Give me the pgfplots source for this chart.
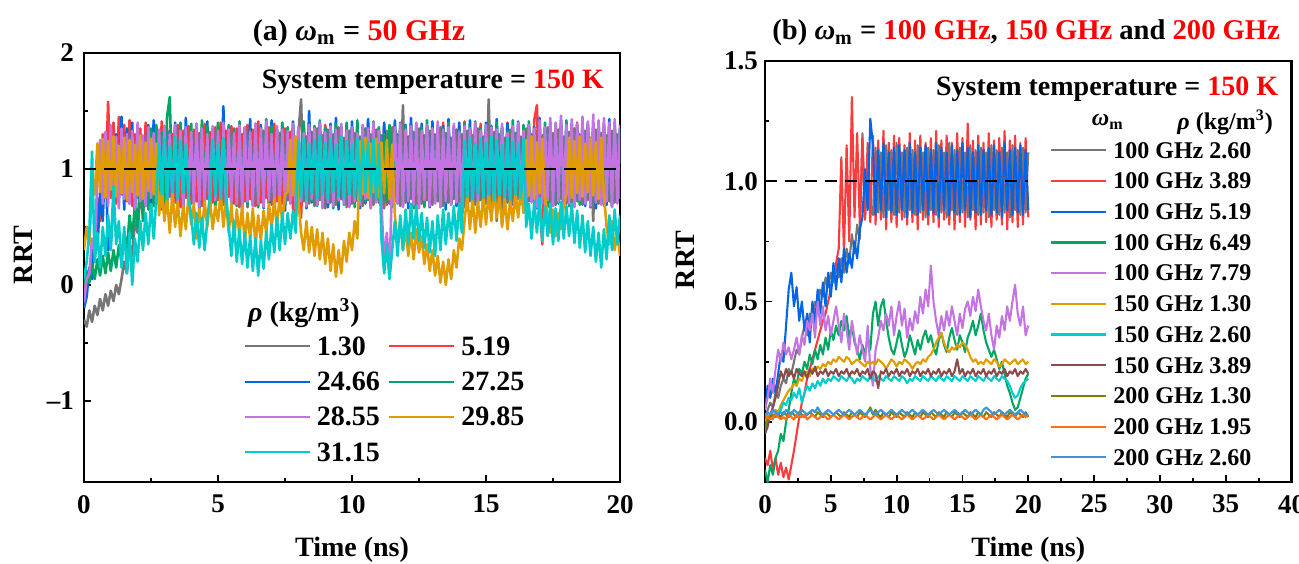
\documentclass[border=0pt]{standalone}
\usepackage{fontspec}
\setmainfont{Liberation Serif}
\usepackage{pgfplots}
\usepackage{pgfplotstable}
\pgfplotsset{compat=1.18}

\definecolor{cgray}{RGB}{118,118,118}
\definecolor{cred}{RGB}{250,60,60}
\definecolor{cblue}{RGB}{0,102,230}
\definecolor{cgreen}{RGB}{0,166,100}
\definecolor{cpurple}{RGB}{196,116,226}
\definecolor{corange}{RGB}{224,156,0}
\definecolor{ccyan}{RGB}{0,204,204}
\definecolor{cbrown}{RGB}{140,75,75}
\definecolor{colive}{RGB}{128,128,0}
\definecolor{corangeb}{RGB}{255,112,20}
\definecolor{clblue}{RGB}{60,150,215}

\pgfplotstableread{
t g r b gr p o c
0.0 -0.30 -0.05 -0.20 0.00 -0.15 0.30 0.05
0.1 -0.36 0.10 -0.10 0.12 0.05 0.50 0.20
0.2 -0.22 0.05 0.15 0.02 0.10 0.35 0.45
0.3 -0.32 0.30 0.05 0.18 0.40 0.90 1.15
0.4 -0.18 0.20 0.45 0.05 0.30 0.78 0.20
0.5 -0.26 0.75 0.30 0.22 0.95 1.22 0.45
0.6 -0.12 0.55 0.80 0.08 1.25 0.80 0.15
0.7 -0.22 1.30 0.55 0.25 0.70 1.26 0.50
0.8 -0.08 0.80 1.20 0.10 1.32 0.75 0.25
0.9 -0.18 1.58 0.30 0.28 0.68 1.24 0.60
1.0 -0.05 0.75 0.35 0.12 1.38 0.82 0.30
1.1 -0.14 1.40 0.70 0.30 0.72 1.28 0.85
1.2 0.00 0.70 1.30 0.15 1.28 0.76 0.35
1.3 -0.08 1.45 0.72 0.34 0.66 1.20 0.55
1.4 0.05 0.78 1.45 0.20 1.35 0.79 0.15
1.5 0.20 1.38 0.65 0.45 0.74 1.27 0.50
1.6 0.10 0.72 1.35 0.30 1.30 0.73 0.10
1.7 0.35 1.42 0.70 0.60 0.70 1.25 0.45
1.8 0.25 0.68 1.40 0.40 1.33 0.80 0.00
1.9 0.55 1.30 0.62 0.70 0.65 1.21 0.40
2.0 0.45 0.75 1.36 0.50 1.40 0.77 0.20
2.1 0.80 1.35 0.75 0.95 0.72 1.29 0.55
2.2 0.60 0.66 1.28 0.55 1.29 0.74 0.30
2.3 1.10 1.40 0.68 1.20 0.68 1.23 0.62
2.4 0.70 0.74 1.38 0.65 1.36 0.81 0.35
2.5 1.25 1.33 0.64 1.35 0.75 1.26 0.70
2.6 1.30 0.70 1.42 0.68 1.31 0.78 0.40
2.7 0.72 1.36 0.70 1.38 0.70 1.22 0.75
2.8 1.28 0.73 1.30 0.75 1.34 0.60 1.22
2.9 0.65 1.41 0.66 1.32 0.67 0.85 0.78
3.0 1.33 0.69 1.37 0.70 1.37 0.55 1.26
3.1 0.70 1.35 0.72 1.45 0.73 0.75 0.74
3.2 1.26 0.76 1.33 1.62 1.30 0.45 1.20
3.3 0.68 1.30 0.66 0.72 0.69 0.80 0.80
3.4 1.35 0.71 1.40 1.36 1.38 0.50 1.28
3.5 0.74 1.38 0.70 0.66 0.71 0.72 0.75
3.6 1.29 0.67 1.35 1.40 1.33 0.42 1.24
3.7 0.66 1.33 0.64 0.74 0.66 0.68 0.79
3.8 1.32 0.75 1.44 1.34 1.36 0.48 1.21
3.9 0.71 1.37 0.68 0.69 0.74 0.78 0.76
4.0 1.27 0.70 1.31 1.39 1.32 0.52 0.60
4.1 0.69 1.34 0.73 0.71 0.70 0.70 0.35
4.2 1.34 0.72 1.39 1.33 1.39 0.40 0.62
4.3 0.73 1.31 0.65 0.67 0.68 0.66 0.32
4.4 1.30 0.68 1.36 1.42 1.35 0.45 0.58
4.5 0.67 1.39 0.71 0.73 0.72 0.72 0.30
4.6 1.36 0.74 1.41 1.37 1.30 0.50 0.55
4.7 0.70 1.32 0.67 0.70 0.67 0.75 0.78
4.8 1.31 0.71 1.34 1.35 1.37 0.48 1.25
4.9 0.68 1.36 0.72 0.68 0.73 0.68 0.77
5.0 1.28 0.73 1.38 1.40 1.33 0.55 1.22
5.1 0.72 1.40 0.66 0.75 0.69 0.80 0.74
5.2 1.33 0.69 1.54 1.32 1.40 0.50 1.27
5.3 0.66 1.33 0.70 0.66 0.66 0.72 0.80
5.4 1.29 0.76 1.37 1.38 1.34 0.45 0.50
5.5 0.73 1.37 0.69 0.72 0.71 0.70 0.25
5.6 1.35 0.70 1.32 1.34 1.31 0.38 0.55
5.7 0.69 1.35 0.74 0.68 0.70 0.65 0.20
5.8 1.27 0.67 1.40 1.41 1.38 0.42 0.48
5.9 0.71 1.30 0.65 0.74 0.65 0.68 0.18
6.0 1.32 0.72 1.35 1.36 1.36 0.36 0.45
6.1 0.67 1.38 0.71 0.69 0.72 0.62 0.15
6.2 1.30 0.74 1.43 1.33 1.32 0.40 0.42
6.3 0.74 1.34 0.68 0.71 0.68 0.66 0.12
6.4 1.37 0.68 1.30 1.39 1.39 0.34 0.40
6.5 0.70 1.41 0.73 0.67 0.70 0.60 0.08
6.6 1.28 0.71 1.38 1.35 1.35 0.38 0.38
6.7 0.68 1.33 0.66 0.73 0.67 0.64 0.14
6.8 1.34 0.75 1.36 1.43 1.41 0.44 0.46
6.9 0.72 1.36 0.70 0.70 0.73 0.70 0.22
7.0 1.31 0.69 1.42 1.37 1.30 0.48 0.52
7.1 0.65 1.39 0.67 0.66 0.69 0.74 0.28
7.2 1.29 0.72 1.33 1.34 1.37 0.50 0.58
7.3 0.73 1.31 0.72 0.72 0.66 0.76 0.30
7.4 1.36 0.70 1.39 1.40 1.34 0.55 0.62
7.5 0.69 1.35 0.64 0.68 0.71 0.78 0.35
7.6 1.27 0.73 1.35 1.36 1.33 0.80 0.62
7.7 0.71 1.32 0.70 0.71 0.70 1.25 0.40
7.8 1.33 0.66 1.41 1.38 1.39 0.77 0.64
7.9 0.67 0.55 0.68 0.69 0.67 1.28 0.45
8.0 1.30 1.10 1.36 1.35 1.36 0.74 1.24
8.1 1.60 0.58 0.72 0.73 0.72 0.45 0.76
8.2 0.72 1.34 1.37 1.41 1.31 0.30 1.27
8.3 1.28 0.71 0.66 0.67 0.68 0.55 0.73
8.4 0.70 1.40 1.50 1.34 1.38 0.28 1.22
8.5 1.32 0.74 0.71 0.72 0.74 0.50 0.79
8.6 0.68 1.36 1.33 1.37 1.35 0.25 1.25
8.7 1.35 0.69 0.69 0.68 0.69 0.48 0.75
8.8 0.73 1.33 1.40 1.42 1.40 0.22 1.29
8.9 1.29 0.72 0.73 0.70 0.66 0.45 0.78
9.0 0.66 1.38 1.35 1.36 1.32 0.18 1.23
9.1 1.34 0.67 0.67 0.74 0.71 0.40 0.74
9.2 0.71 1.35 1.39 1.33 1.37 0.12 1.26
9.3 1.30 0.75 0.70 0.66 0.68 0.35 0.80
9.4 0.69 1.31 1.44 1.39 1.34 0.07 1.21
9.5 1.36 0.70 0.65 0.71 0.73 0.30 0.77
9.6 0.74 1.37 1.36 1.35 1.39 0.10 1.28
9.7 1.27 0.73 0.72 0.69 0.70 0.38 0.75
9.8 0.67 1.39 1.32 1.40 1.33 0.20 1.24
9.9 1.33 0.68 0.68 0.73 0.67 0.45 0.78
10.0 0.70 1.34 1.41 1.36 1.36 0.30 1.22
10.1 1.31 0.71 0.74 0.67 0.72 0.55 0.76
10.2 0.72 1.36 1.38 1.42 1.31 0.40 1.27
10.3 1.28 0.74 0.66 0.70 0.69 1.24 0.73
10.4 0.68 1.32 1.34 1.37 1.38 0.78 1.25
10.5 1.35 0.70 0.71 0.72 0.74 1.27 0.80
10.6 0.73 1.40 1.43 1.34 1.35 0.75 1.23
10.7 1.30 0.66 0.69 0.68 0.66 1.22 0.77
10.8 0.69 1.35 1.37 1.41 1.40 0.80 1.26
10.9 1.34 0.72 0.73 0.74 0.71 1.26 0.74
11.0 0.71 1.33 1.35 1.36 1.33 0.76 1.21
11.1 1.29 0.75 0.67 0.70 0.68 1.23 0.40
11.2 0.66 1.37 1.40 1.30 0.20 0.79 0.10
11.3 1.33 0.69 0.72 0.72 0.45 1.25 0.35
11.4 0.70 1.34 1.36 1.38 0.08 0.74 0.05
11.5 1.36 0.71 0.68 0.67 0.95 1.21 0.30
11.6 0.72 1.38 1.42 1.35 1.36 0.60 0.55
11.7 1.30 0.73 0.70 0.71 0.70 0.35 0.25
11.8 0.68 1.33 1.33 1.40 1.39 0.55 0.60
11.9 1.55 0.68 0.74 0.69 0.67 0.30 0.30
12.0 0.71 1.36 1.38 1.37 1.34 0.50 0.65
12.1 1.28 0.74 0.66 0.73 0.72 0.25 0.35
12.2 0.74 1.39 1.44 1.33 1.37 0.45 0.70
12.3 1.32 0.70 0.71 0.66 0.69 0.22 0.40
12.4 0.67 1.31 1.35 1.39 1.40 0.48 0.68
12.5 1.35 0.72 0.69 0.72 0.66 0.28 0.38
12.6 0.70 1.37 1.39 1.36 1.33 0.42 0.62
12.7 1.29 0.67 0.73 0.68 0.73 0.18 0.32
12.8 0.73 1.34 1.36 1.42 1.38 0.35 0.58
12.9 1.33 0.75 0.67 0.70 0.68 0.12 0.28
13.0 0.69 1.38 1.41 1.34 1.35 0.30 0.55
13.1 1.30 0.71 0.72 0.74 0.70 0.08 0.25
13.2 0.72 1.33 1.34 1.38 1.41 0.25 0.60
13.3 1.36 0.69 0.70 0.67 0.67 0.02 0.30
13.4 0.68 1.40 1.37 1.35 1.34 0.20 0.65
13.5 1.31 0.73 0.65 0.71 0.72 0.00 0.35
13.6 0.71 1.35 1.43 1.40 1.36 0.22 0.62
13.7 1.27 0.70 0.71 0.69 0.69 0.05 0.40
13.8 0.74 1.32 1.35 1.37 1.39 0.30 0.68
13.9 1.34 0.72 0.68 0.72 0.71 0.15 0.38
14.0 0.70 1.37 1.40 1.33 1.32 0.40 0.70
14.1 1.30 0.68 0.73 0.66 0.68 0.30 0.45
14.2 0.67 1.41 1.36 1.39 1.37 0.55 1.24
14.3 1.33 0.74 0.70 0.73 0.73 0.78 0.76
14.4 0.72 1.33 1.42 1.36 1.35 0.48 1.27
14.5 1.29 0.70 0.67 0.68 0.66 0.75 0.74
14.6 0.69 1.36 1.38 1.41 1.40 0.45 1.22
14.7 1.35 0.73 0.72 0.71 0.70 0.72 0.79
14.8 0.73 1.39 1.34 1.35 1.33 0.50 1.26
14.9 1.28 0.67 0.69 0.74 0.72 0.77 0.75
15.0 0.70 1.34 1.40 1.38 1.38 0.52 1.23
15.1 1.60 0.72 0.66 0.67 0.67 0.80 0.78
15.2 0.68 1.37 1.37 1.34 1.36 0.55 1.28
15.3 1.32 0.75 0.73 0.72 0.71 0.82 0.73
15.4 0.55 1.32 1.43 1.40 1.34 0.58 1.25
15.5 1.30 0.69 0.70 0.69 0.68 0.78 0.77
15.6 0.52 1.35 1.35 1.36 1.39 0.50 1.21
15.7 1.27 0.71 0.68 0.73 0.73 0.75 0.76
15.8 0.71 1.40 1.39 1.33 1.31 0.48 1.27
15.9 1.34 0.74 0.72 0.66 0.70 0.72 0.74
16.0 0.69 1.33 1.36 1.42 1.37 0.55 1.24
16.1 1.31 0.70 0.67 0.71 0.66 0.80 0.78
16.2 0.74 1.38 1.41 1.35 1.40 0.58 1.22
16.3 1.28 0.73 0.71 0.70 0.72 0.83 0.75
16.4 0.67 1.34 1.34 1.38 1.33 0.62 1.26
16.5 1.35 0.66 0.69 0.68 0.69 1.25 0.50
16.6 0.72 1.36 1.38 1.41 1.38 0.77 0.70
16.7 1.30 0.72 0.73 0.72 0.71 1.28 0.40
16.8 0.70 1.42 1.36 1.34 1.35 0.74 0.72
16.9 1.33 1.55 0.66 0.69 0.67 1.23 0.45
17.0 0.68 0.70 1.44 1.37 1.42 0.79 0.75
17.1 1.29 0.35 0.70 0.73 0.70 1.26 0.38
17.2 0.73 1.30 1.35 1.40 1.36 0.76 0.68
17.3 1.36 0.72 0.72 0.67 0.73 0.60 0.42
17.4 0.71 1.37 1.40 1.33 1.44 0.45 0.70
17.5 1.31 0.69 0.68 0.71 0.68 0.65 0.35
17.6 0.69 1.34 1.37 1.39 1.40 0.42 0.66
17.7 1.34 0.74 0.71 0.70 0.72 0.62 0.38
17.8 0.74 1.38 1.42 1.36 1.46 0.48 0.72
17.9 1.28 0.70 0.67 0.74 0.69 0.68 0.40
18.0 0.70 1.33 1.36 1.42 1.38 0.78 0.68
18.1 1.32 0.73 0.73 0.68 0.70 1.27 0.42
18.2 0.67 1.36 1.39 1.35 1.43 0.75 0.70
18.3 1.35 0.68 0.69 0.72 0.67 1.24 0.36
18.4 0.72 1.40 1.35 1.38 1.39 0.79 0.64
18.5 1.30 0.71 0.72 0.69 0.73 1.28 0.32
18.6 0.69 1.35 1.41 1.34 1.45 0.76 0.60
18.7 1.33 0.75 0.68 0.73 0.70 1.22 0.28
18.8 0.73 1.32 1.38 1.40 1.41 0.80 0.55
18.9 1.27 0.67 0.71 0.67 0.68 1.26 0.25
19.0 0.55 1.37 1.34 1.36 1.47 0.77 0.50
19.1 1.34 0.72 0.66 0.71 0.71 1.23 0.20
19.2 0.70 1.34 1.40 1.39 1.42 0.74 0.45
19.3 1.31 0.70 0.72 0.70 0.69 1.27 0.15
19.4 0.68 1.39 1.37 1.33 1.44 0.78 0.48
19.5 1.29 0.73 0.69 0.74 0.72 0.50 0.22
19.6 0.72 1.35 1.43 1.37 1.40 0.35 0.60
19.7 1.33 0.69 0.70 0.68 0.67 0.55 0.30
19.8 0.71 1.36 1.36 1.40 1.43 0.30 0.65
19.9 1.30 0.74 0.73 0.72 0.70 0.45 0.35
20.0 0.74 1.33 1.35 1.35 1.38 0.25 0.60
}\leftdata

\pgfplotstableread{
t A B C D E F G H I J K
0.0 0.00 -0.15 0.05 -0.20 0.05 0.00 -0.05 -0.05 -0.02 0.03 0.03
0.2 0.05 -0.18 0.15 -0.25 0.10 0.02 0.00 -0.02 0.01 0.02 0.04
0.4 0.08 -0.12 0.10 -0.18 0.18 0.03 0.02 0.03 0.02 0.01 0.03
0.6 0.06 -0.20 0.18 -0.22 0.12 0.04 0.01 0.06 0.03 0.02 0.05
0.8 0.12 -0.15 0.12 -0.15 0.22 0.05 0.04 0.10 0.02 0.03 0.04
1.0 0.10 -0.22 0.20 -0.12 0.30 0.04 0.03 0.15 0.03 0.02 0.03
1.2 0.15 -0.17 0.28 -0.05 0.25 0.07 0.05 0.21 0.02 0.01 0.04
1.4 0.18 -0.23 0.25 -0.08 0.33 0.09 0.08 0.18 0.04 0.02 0.03
1.6 0.16 -0.19 0.40 0.00 0.28 0.11 0.07 0.22 0.03 0.01 0.05
1.8 0.22 -0.24 0.55 0.05 0.31 0.13 0.10 0.19 0.02 0.03 0.04
2.0 0.20 -0.18 0.62 0.12 0.26 0.14 0.09 0.21 0.04 0.02 0.03
2.2 0.25 -0.12 0.48 0.18 0.30 0.16 0.12 0.18 0.03 0.01 0.05
2.4 0.30 -0.05 0.56 0.15 0.35 0.15 0.10 0.22 0.02 0.03 0.04
2.6 0.28 0.02 0.42 0.22 0.28 0.18 0.14 0.20 0.04 0.02 0.03
2.8 0.35 0.08 0.50 0.20 0.36 0.17 0.08 0.19 0.03 0.02 0.05
3.0 0.40 0.12 0.38 0.25 0.32 0.20 0.12 0.21 0.02 0.03 0.04
3.2 0.36 0.18 0.45 0.22 0.42 0.21 0.15 0.18 0.03 0.01 0.03
3.4 0.45 0.22 0.33 0.28 0.38 0.19 0.13 0.22 0.04 0.02 0.04
3.6 0.42 0.26 0.50 0.24 0.45 0.22 0.16 0.20 0.03 0.03 0.05
3.8 0.50 0.30 0.40 0.30 0.35 0.21 0.14 0.23 0.02 0.02 0.04
4.0 0.48 0.34 0.55 0.26 0.50 0.23 0.17 0.19 0.04 0.01 0.06
4.2 0.55 0.38 0.45 0.32 0.40 0.22 0.15 0.21 0.03 0.02 0.04
4.4 0.52 0.42 0.58 0.28 0.48 0.24 0.18 0.20 0.02 0.03 0.03
4.6 0.60 0.45 0.48 0.35 0.38 0.23 0.16 0.22 0.04 0.02 0.04
4.8 0.56 0.50 0.62 0.30 0.44 0.25 0.18 0.19 0.03 0.01 0.05
5.0 0.62 0.55 0.52 0.38 0.36 0.24 0.17 0.21 0.02 0.02 0.04
5.2 0.58 0.60 0.66 0.34 0.42 0.26 0.19 0.20 0.03 0.03 0.03
5.4 0.65 0.66 0.55 0.40 0.48 0.25 0.18 0.22 0.04 0.02 0.04
5.6 0.60 0.72 0.68 0.36 0.40 0.27 0.17 0.19 0.03 0.01 0.05
5.8 0.68 1.10 0.58 0.42 0.33 0.26 0.19 0.21 0.02 0.02 0.04
6.0 0.62 0.70 0.72 0.38 0.45 0.25 0.18 0.20 0.04 0.03 0.03
6.2 0.72 1.15 0.62 0.44 0.38 0.27 0.17 0.22 0.03 0.02 0.04
6.4 0.66 0.75 0.70 0.35 0.30 0.26 0.19 0.19 0.02 0.01 0.05
6.6 0.78 1.35 0.64 0.40 0.42 0.24 0.18 0.21 0.04 0.02 0.04
6.8 0.70 0.85 0.75 0.33 0.35 0.25 0.16 0.20 0.03 0.03 0.03
7.0 0.82 1.20 0.68 0.30 0.28 0.26 0.18 0.22 0.02 0.02 0.04
7.2 0.76 0.82 0.80 0.26 0.36 0.25 0.17 0.19 0.04 0.01 0.05
7.4 1.20 1.18 0.85 0.32 0.30 0.24 0.19 0.21 0.03 0.02 0.04
7.6 0.85 0.84 1.05 0.28 0.25 0.23 0.18 0.20 0.02 0.03 0.03
7.8 1.12 1.16 0.88 0.35 0.40 0.25 0.17 0.22 0.04 0.02 0.04
8.0 0.88 0.83 1.26 0.30 0.22 0.24 0.19 0.18 0.06 0.01 0.05
8.2 0.86 1.19 1.15 0.45 0.15 0.25 0.18 0.21 0.03 0.02 0.04
8.4 1.14 0.82 0.86 0.50 0.30 0.24 0.17 0.20 0.05 0.03 0.03
8.6 0.87 1.17 1.13 0.40 0.35 0.26 0.19 0.14 0.03 0.02 0.04
8.8 1.12 0.84 0.88 0.48 0.42 0.25 0.18 0.21 0.02 0.01 0.05
9.0 0.85 1.21 1.16 0.51 0.38 0.24 0.17 0.20 0.04 0.02 0.04
9.2 1.15 0.80 0.85 0.42 0.45 0.22 0.19 0.22 0.03 0.03 0.03
9.4 0.88 1.16 1.12 0.35 0.40 0.24 0.18 0.19 0.02 0.02 0.04
9.6 1.13 0.83 0.87 0.30 0.48 0.26 0.17 0.21 0.04 0.01 0.05
9.8 0.86 1.19 1.14 0.28 0.36 0.25 0.19 0.20 0.03 0.02 0.04
10.0 1.16 0.81 0.86 0.33 0.44 0.23 0.18 0.22 0.02 0.03 0.03
10.2 0.87 1.18 1.15 0.38 0.50 0.25 0.17 0.19 0.04 0.02 0.04
10.4 1.12 0.84 0.88 0.32 0.40 0.24 0.19 0.21 0.03 0.01 0.05
10.6 0.85 1.15 1.13 0.27 0.47 0.26 0.18 0.20 0.02 0.02 0.04
10.8 1.14 0.82 0.85 0.30 0.35 0.25 0.16 0.22 0.04 0.03 0.03
11.0 0.88 1.20 1.16 0.36 0.43 0.24 0.18 0.19 0.03 0.02 0.04
11.2 1.13 0.83 0.87 0.32 0.38 0.22 0.17 0.21 0.02 0.01 0.05
11.4 0.86 1.17 1.12 0.28 0.46 0.24 0.19 0.20 0.04 0.02 0.04
11.6 1.15 0.80 0.86 0.34 0.41 0.25 0.18 0.22 0.03 0.03 0.03
11.8 0.87 1.19 1.14 0.30 0.52 0.24 0.17 0.19 0.02 0.02 0.04
12.0 1.12 0.84 0.88 0.35 0.45 0.26 0.19 0.21 0.04 0.01 0.05
12.2 0.85 1.16 1.15 0.38 0.55 0.25 0.18 0.20 0.03 0.02 0.04
12.4 1.14 0.82 0.86 0.33 0.48 0.27 0.17 0.22 0.02 0.03 0.03
12.6 0.88 1.18 1.13 0.36 0.65 0.28 0.19 0.19 0.04 0.02 0.04
12.8 1.13 0.83 0.87 0.31 0.50 0.30 0.18 0.21 0.03 0.01 0.05
13.0 0.86 1.21 1.16 0.28 0.42 0.33 0.17 0.20 0.02 0.02 0.04
13.2 1.15 0.81 0.85 0.34 0.36 0.35 0.19 0.22 0.04 0.03 0.03
13.4 0.87 1.17 1.14 0.37 0.44 0.37 0.18 0.19 0.03 0.02 0.04
13.6 1.12 0.84 0.88 0.32 0.38 0.33 0.17 0.21 0.02 0.01 0.05
13.8 0.85 1.19 1.12 0.29 0.46 0.30 0.19 0.20 0.04 0.02 0.04
14.0 1.16 0.82 0.86 0.35 0.40 0.29 0.18 0.22 0.03 0.03 0.03
14.2 0.88 1.16 1.15 0.39 0.48 0.31 0.17 0.19 0.02 0.02 0.04
14.4 1.13 0.80 0.87 0.34 0.42 0.30 0.19 0.21 0.04 0.01 0.05
14.6 0.86 1.20 1.13 0.30 0.36 0.32 0.18 0.26 0.03 0.02 0.04
14.8 1.14 0.83 0.86 0.36 0.45 0.31 0.17 0.20 0.02 0.03 0.03
15.0 0.87 1.18 1.16 0.33 0.39 0.33 0.19 0.22 0.04 0.02 0.04
15.2 1.12 0.81 0.88 0.29 0.47 0.32 0.18 0.19 0.03 0.01 0.05
15.4 0.85 1.24 1.14 0.35 0.50 0.30 0.17 0.21 0.02 0.02 0.04
15.6 1.15 0.84 0.85 0.38 0.44 0.27 0.19 0.20 0.04 0.03 0.03
15.8 0.88 1.17 1.12 0.42 0.52 0.25 0.18 0.22 0.03 0.02 0.04
16.0 1.13 0.80 0.87 0.36 0.46 0.26 0.17 0.19 0.02 0.01 0.05
16.2 0.86 1.19 1.15 0.40 0.55 0.24 0.19 0.21 0.04 0.02 0.04
16.4 1.14 0.82 0.86 0.45 0.48 0.25 0.18 0.20 0.03 0.03 0.03
16.6 0.87 1.16 1.13 0.38 0.42 0.24 0.17 0.22 0.02 0.02 0.05
16.8 1.12 0.83 0.88 0.33 0.38 0.26 0.19 0.19 0.04 0.01 0.06
17.0 0.85 1.20 1.14 0.30 0.45 0.25 0.18 0.21 0.03 0.02 0.05
17.2 1.15 0.81 0.86 0.27 0.36 0.24 0.17 0.20 0.02 0.03 0.04
17.4 0.88 1.17 1.15 0.30 0.30 0.26 0.19 0.22 0.04 0.02 0.03
17.6 1.13 0.84 0.87 0.26 0.40 0.25 0.18 0.19 0.03 0.01 0.04
17.8 0.86 1.18 1.12 0.22 0.35 0.23 0.17 0.21 0.02 0.02 0.05
18.0 1.14 0.82 0.85 0.25 0.44 0.24 0.19 0.20 0.04 0.03 0.04
18.2 0.87 1.21 1.16 0.20 0.38 0.26 0.18 0.22 0.03 0.02 0.03
18.4 1.12 0.80 0.88 0.15 0.48 0.25 0.17 0.19 0.02 0.01 0.04
18.6 0.85 1.17 1.13 0.12 0.42 0.24 0.15 0.21 0.04 0.02 0.05
18.8 1.15 0.83 0.86 0.08 0.50 0.25 0.12 0.20 0.03 0.03 0.04
19.0 0.88 1.19 1.14 0.05 0.57 0.26 0.10 0.22 0.02 0.02 0.03
19.2 1.13 0.81 0.87 0.06 0.45 0.24 0.11 0.19 0.04 0.01 0.04
19.4 0.86 1.16 1.15 0.10 0.40 0.25 0.14 0.21 0.03 0.02 0.05
19.6 1.14 0.82 0.86 0.14 0.48 0.26 0.16 0.20 0.02 0.03 0.04
19.8 0.87 1.18 1.13 0.18 0.36 0.24 0.17 0.22 0.04 0.02 0.03
20.0 1.12 0.85 0.88 0.20 0.40 0.25 0.18 0.20 0.02 0.03 0.03
}\rightdata

\pgfplotsset{
  rrt/.style={
    scale only axis,
    clip mode=individual,
    axis line style={line width=1.1pt},
    tick align=inside, tick pos=left,
    major tick length=3.5pt, minor tick length=2pt,
    every tick/.style={black, line width=0.9pt},
    minor x tick num=1, minor y tick num=1,
    ticklabel style={font=\fontsize{13.5}{15}\selectfont\bfseries},
    /pgf/number format/assume math mode=true,
    legend cell align=left,
  }
}

\newcommand{\bigf}{\fontsize{14}{16}\selectfont\bfseries}
\newcommand{\titf}{\fontsize{15}{18}\selectfont\bfseries}

\begin{document}
\begin{tikzpicture}
\path[use as bounding box] (-42pt,-40.5pt) rectangle (607.5pt,241pt);

% ---------------- left panel ----------------
\begin{axis}[rrt, at={(0pt,0pt)}, anchor=south west,
  width=268pt, height=214.5pt,
  xmin=0, xmax=20, ymin=-1.7, ymax=2,
  xtick={0,5,10,15,20}, ytick={-1,0,1,2}, yticklabels={--1,0,1,2},
  xticklabel style={yshift=-3pt}, yticklabel style={xshift=-1.5pt},
  legend columns=2,
  legend style={at={(0.297,0.3427)}, anchor=north west, draw=none, fill=none,
    inner sep=0pt, row sep=6.65pt, font=\bigf,
    nodes={inner sep=0pt, text height=10pt, text depth=1pt},
    /tikz/every even column/.append style={column sep=4pt}},
  legend image code/.code={\draw[#1,line width=1.1pt] (0pt,0pt) -- (32.5pt,0pt); \path (35.5pt,0pt);},
  every axis plot/.append style={line width=1.3pt, line join=round},
]
\addplot[cgray] table[x=t,y=g]{\leftdata}; \addlegendentry{1.30}
\addplot[cred] table[x=t,y=r]{\leftdata}; \addlegendentry{5.19}
\addplot[cblue] table[x=t,y=b]{\leftdata}; \addlegendentry{24.66}
\addplot[cgreen] table[x=t,y=gr]{\leftdata}; \addlegendentry{27.25}
\addplot[cpurple] table[x=t,y=p]{\leftdata}; \addlegendentry{28.55}
\addplot[corange] table[x=t,y=o]{\leftdata}; \addlegendentry{29.85}
\addplot[ccyan] table[x=t,y=c]{\leftdata}; \addlegendentry{31.15}
\addplot[black, line width=1pt, dash pattern=on 6pt off 4pt, forget plot] coordinates {(0,1) (20,1)};
\node[font=\titf, anchor=base] at (axis description cs:0.513,1.030) {(a) {\itshape ω}\textsubscript{m} = \textcolor{red}{50 GHz}};
\node[font=\bigf, anchor=base east] at (axis description cs:0.983,0.918) {System temperature = \textcolor{red}{150 K}};
\node[font=\bigf, anchor=west] at (axis description cs:0.293,0.394) {{\itshape ρ} (kg/m\textsuperscript{3})};
\node[font=\bigf, rotate=90, anchor=center] at (axis description cs:-0.114,0.529) {RRT};
\node[font=\bigf, anchor=base] at (axis description cs:0.5,-0.1725) {Time (ns)};
\end{axis}

% ---------------- right panel ----------------
\begin{axis}[rrt, at={(340.5pt,0pt)}, anchor=south west,
  width=263.25pt, height=210.5pt,
  xmin=0, xmax=40, ymin=-0.25, ymax=1.5,
  xtick={0,5,10,15,20,25,30,35,40}, ytick={0,0.5,1,1.5}, yticklabels={0.0,0.5,1.0,1.5},
  xticklabel style={yshift=-3pt},
  legend style={at={(0.541,0.811)}, anchor=north west, draw=none, fill=none,
    inner sep=0pt, row sep=5.95pt, font=\fontsize{12}{14}\selectfont\bfseries,
    nodes={inner sep=0pt, text height=8.6pt, text depth=0.8pt}},
  legend image code/.code={\draw[#1,line width=1.1pt] (0pt,0pt) -- (27.5pt,0pt); \path (30.5pt,0pt);},
  every axis plot/.append style={line width=1.05pt, line join=round},
]
\addplot[cgray] table[x=t,y=A]{\rightdata}; \addlegendentry{100 GHz 2.60}
\addplot[cred] table[x=t,y=B]{\rightdata}; \addlegendentry{100 GHz 3.89}
\addplot[cblue] table[x=t,y=C]{\rightdata}; \addlegendentry{100 GHz 5.19}
\addplot[cgreen] table[x=t,y=D]{\rightdata}; \addlegendentry{100 GHz 6.49}
\addplot[cpurple] table[x=t,y=E]{\rightdata}; \addlegendentry{100 GHz 7.79}
\addplot[corange] table[x=t,y=F]{\rightdata}; \addlegendentry{150 GHz 1.30}
\addplot[ccyan] table[x=t,y=G]{\rightdata}; \addlegendentry{150 GHz 2.60}
\addplot[cbrown] table[x=t,y=H]{\rightdata}; \addlegendentry{150 GHz 3.89}
\addplot[colive] table[x=t,y=I]{\rightdata}; \addlegendentry{200 GHz 1.30}
\addplot[corangeb] table[x=t,y=J]{\rightdata}; \addlegendentry{200 GHz 1.95}
\addplot[clblue] table[x=t,y=K]{\rightdata}; \addlegendentry{200 GHz 2.60}
\addplot[black, line width=1pt, dash pattern=on 6pt off 4pt, forget plot] coordinates {(0,1) (20,1)};
\node[font=\fontsize{14.3}{17}\selectfont\bfseries, anchor=base] at (axis description cs:0.496,1.050) {(b) {\itshape ω}\textsubscript{m} = \textcolor{red}{100 GHz}, \textcolor{red}{150 GHz} and \textcolor{red}{200 GHz}};
\node[font=\bigf, anchor=base east] at (axis description cs:0.988,0.919) {System temperature = \textcolor{red}{150 K}};
\node[font=\fontsize{12}{14}\selectfont\bfseries] at (axis description cs:0.651,0.855) {{\itshape ω}\textsubscript{m}};
\node[font=\fontsize{12}{14}\selectfont\bfseries] at (axis description cs:0.874,0.855) {{\itshape ρ} (kg/m\textsuperscript{3})};
\node[font=\bigf, rotate=90, anchor=center] at (axis description cs:-0.152,0.527) {RRT};
\node[font=\bigf, anchor=base] at (axis description cs:0.5,-0.176) {Time (ns)};
\end{axis}
\end{tikzpicture}
\end{document}
